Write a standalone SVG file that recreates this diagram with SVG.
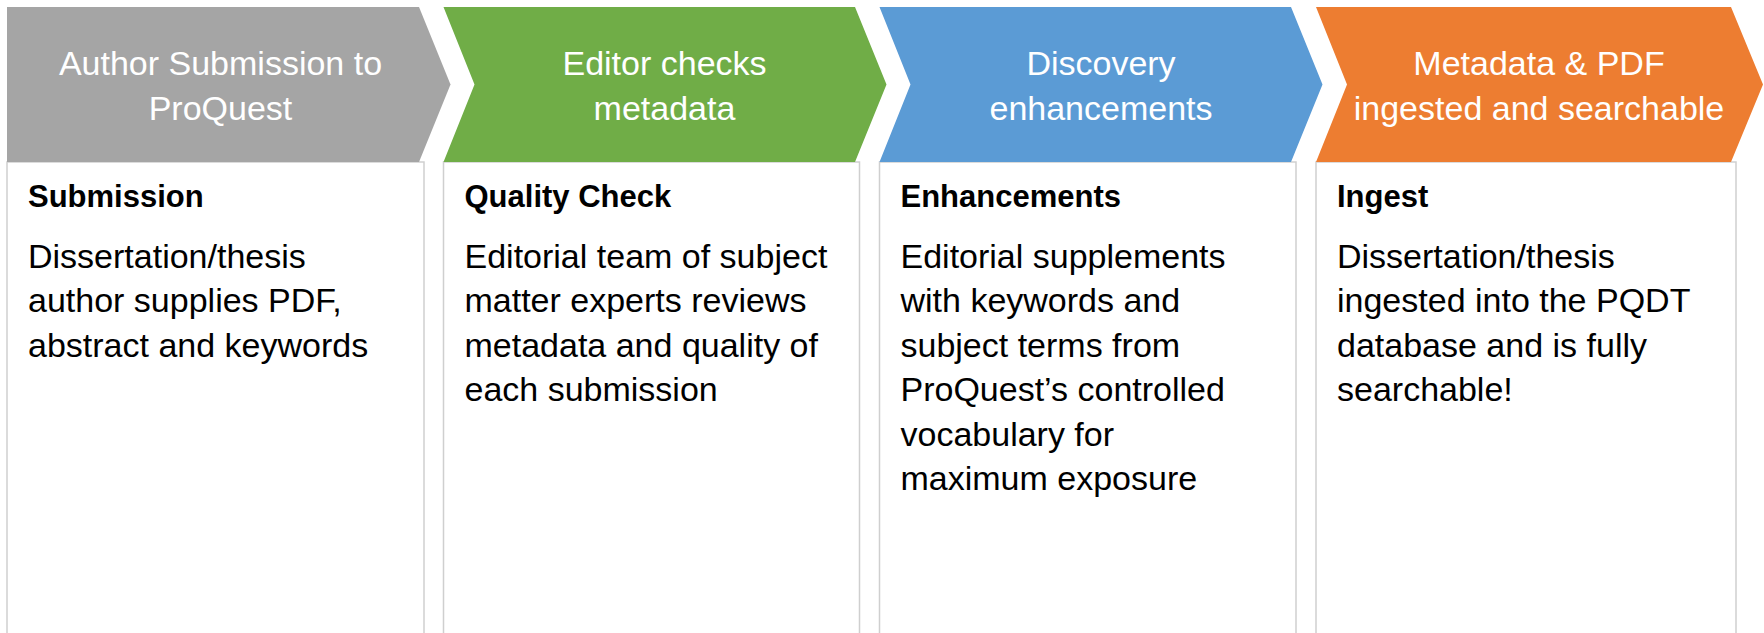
<svg xmlns="http://www.w3.org/2000/svg" width="1764" height="633" viewBox="0 0 1764 633">
<style>
.box{fill:#ffffff;stroke:#cfcfcf;stroke-width:1.5}
.hd{font-family:"Liberation Sans",Arial,sans-serif;font-size:34px;fill:#ffffff;text-anchor:middle}
.tt{font-family:"Liberation Sans",Arial,sans-serif;font-size:31px;font-weight:bold;fill:#000000}
.bd{font-family:"Liberation Sans",Arial,sans-serif;font-size:34px;fill:#000000}
</style>
<rect width="1764" height="633" fill="#ffffff"/>
<g id="col1">
<rect class="box" x="7" y="162" width="417" height="480"/>
<polygon fill="#a5a5a5" points="7,7 419,7 450.5,84.5 419,162 7,162"/>
<text class="hd" x="220.5" y="75">Author Submission to</text>
<text class="hd" x="220.5" y="120">ProQuest</text>
<text class="tt" x="28" y="206.5">Submission</text>
<text class="bd" x="28" y="267.5">Dissertation/thesis</text>
<text class="bd" x="28" y="312">author supplies PDF,</text>
<text class="bd" x="28" y="356.5">abstract and keywords</text>
</g>
<g id="col2">
<rect class="box" x="443.5" y="162" width="416" height="480"/>
<polygon fill="#70ad47" points="443.5,7 855,7 886.5,84.5 855,162 443.5,162 474.5,84.5"/>
<text class="hd" x="664.5" y="75">Editor checks</text>
<text class="hd" x="664.5" y="120">metadata</text>
<text class="tt" x="464.5" y="206.5">Quality Check</text>
<text class="bd" x="464.5" y="267.5">Editorial team of subject</text>
<text class="bd" x="464.5" y="312">matter experts reviews</text>
<text class="bd" x="464.5" y="356.5">metadata and quality of</text>
<text class="bd" x="464.5" y="401">each submission</text>
</g>
<g id="col3">
<rect class="box" x="879.5" y="162" width="416.5" height="480"/>
<polygon fill="#5b9bd5" points="879.5,7 1291,7 1322.5,84.5 1291,162 879.5,162 910.5,84.5"/>
<text class="hd" x="1101" y="75">Discovery</text>
<text class="hd" x="1101" y="120">enhancements</text>
<text class="tt" x="900.5" y="206.5">Enhancements</text>
<text class="bd" x="900.5" y="267.5">Editorial supplements</text>
<text class="bd" x="900.5" y="312">with keywords and</text>
<text class="bd" x="900.5" y="356.5">subject terms from</text>
<text class="bd" x="900.5" y="401">ProQuest’s controlled</text>
<text class="bd" x="900.5" y="445.5">vocabulary for</text>
<text class="bd" x="900.5" y="490">maximum exposure</text>
</g>
<g id="col4">
<rect class="box" x="1316" y="162" width="420" height="480"/>
<polygon fill="#ed7d31" points="1316,7 1731,7 1763,84.5 1731,162 1316,162 1347,84.5"/>
<text class="hd" x="1539" y="75">Metadata &amp; PDF</text>
<text class="hd" x="1539" y="120">ingested and searchable</text>
<text class="tt" x="1337" y="206.5">Ingest</text>
<text class="bd" x="1337" y="267.5">Dissertation/thesis</text>
<text class="bd" x="1337" y="312">ingested into the PQDT</text>
<text class="bd" x="1337" y="356.5">database and is fully</text>
<text class="bd" x="1337" y="401">searchable!</text>
</g>
<g id="connectors"></g>
</svg>
